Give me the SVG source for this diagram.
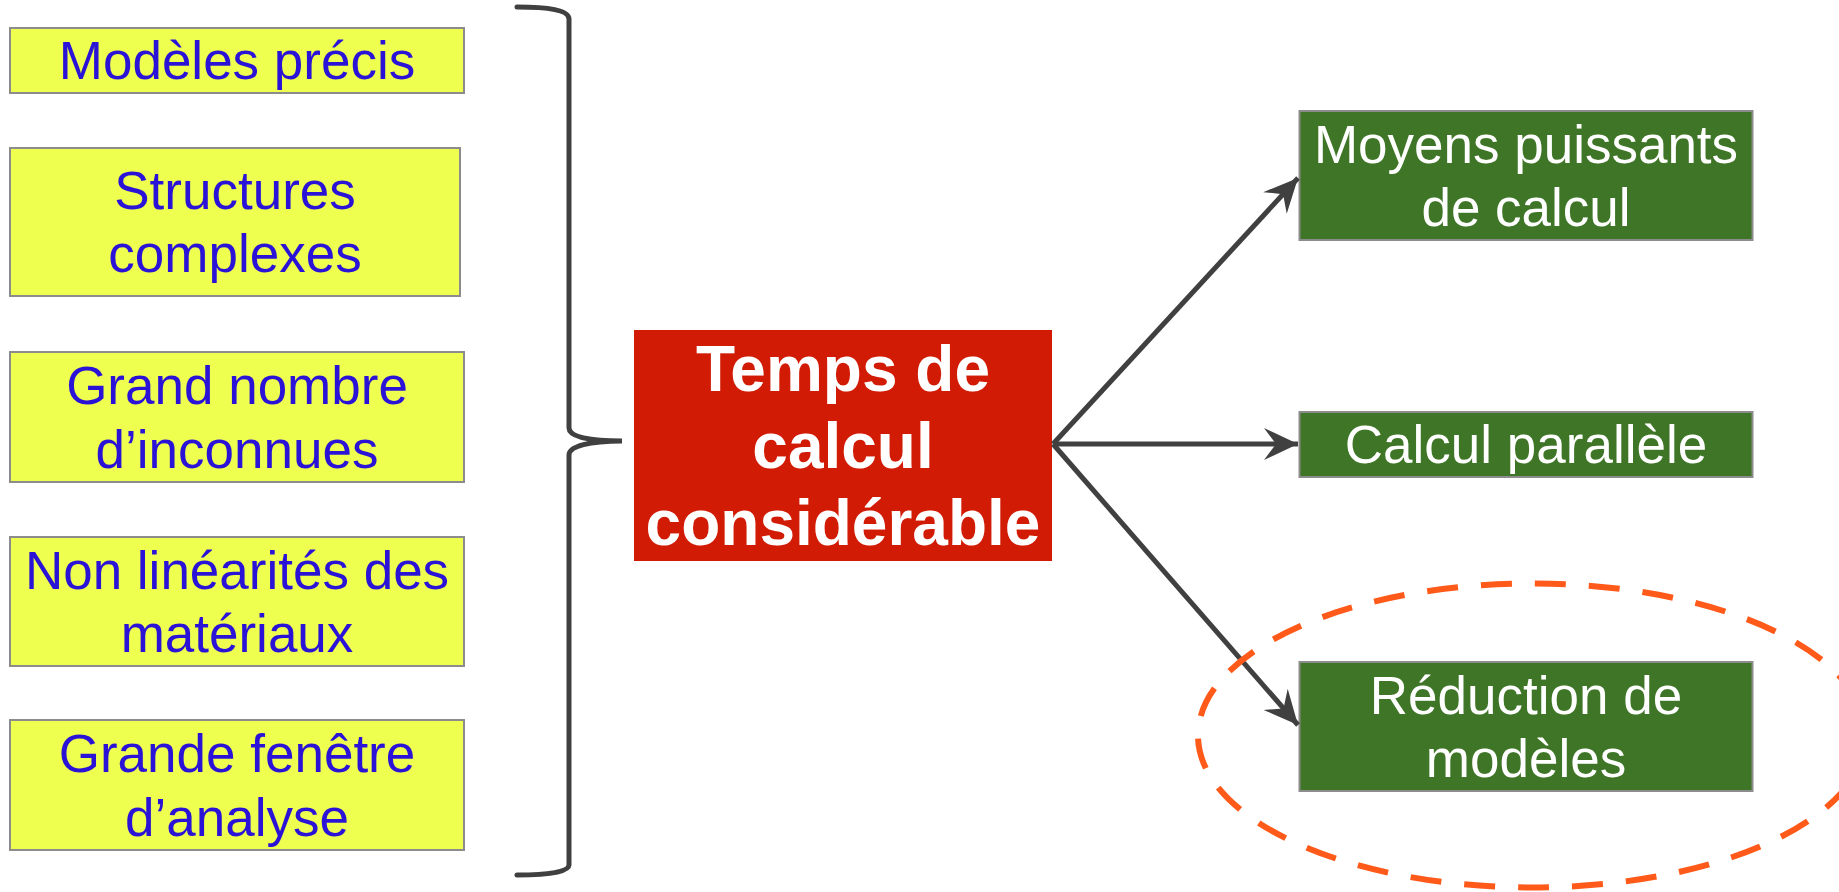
<svg xmlns="http://www.w3.org/2000/svg" width="1839" height="892" viewBox="0 0 1839 892">
<style>
.yb{fill:#EFFF4F;stroke:#8C8C8C;stroke-width:2}
.gb{fill:#3E7526;stroke:#8C8C8C;stroke-width:2}
.yt{font-family:"Liberation Sans",Arial,sans-serif;font-size:53px;fill:#2A12D6;text-anchor:middle}
.gt{font-family:"Liberation Sans",Arial,sans-serif;font-size:53px;fill:#FFFFFF;text-anchor:middle}
.rt{font-family:"Liberation Sans",Arial,sans-serif;font-size:64px;font-weight:bold;fill:#FFFFFF;text-anchor:middle}
.conn{fill:none;stroke:#404040;stroke-width:5}
</style>
<defs>
<marker id="arr" markerUnits="userSpaceOnUse" markerWidth="40" markerHeight="40" viewBox="-36 -20 40 40" refX="0" refY="0" orient="auto">
<path d="M0,0 L-34,-16 L-22,0 L-34,16 Z" fill="#404040"/>
</marker>
</defs>
<rect width="1839" height="892" fill="#FFFFFF"/>

<g id="n1"><rect class="yb" x="10" y="28" width="454" height="65"/><text class="yt" x="237" y="79">Modèles précis</text></g>
<g id="n2"><rect class="yb" x="10" y="148" width="450" height="148"/><text class="yt" x="235" y="208.5">Structures</text><text class="yt" x="235" y="272">complexes</text></g>
<g id="n3"><rect class="yb" x="10" y="352" width="454" height="130"/><text class="yt" x="237" y="404">Grand nombre</text><text class="yt" x="237" y="467.5">d’inconnues</text></g>
<g id="n4"><rect class="yb" x="10" y="537" width="454" height="129"/><text class="yt" x="237" y="588.5">Non linéarités des</text><text class="yt" x="237" y="652">matériaux</text></g>
<g id="n5"><rect class="yb" x="10" y="720" width="454" height="130"/><text class="yt" x="237" y="772">Grande fenêtre</text><text class="yt" x="237" y="835.5">d’analyse</text></g>

<g id="brace"><path class="conn" stroke-linecap="round" d="M517,7 C548,7 569,10 569,19 L569,428 C569,437 590,441 622,441 C590,441 569,446 569,455 L569,865 C569,872 548,875 517,875"/></g>

<g id="center"><rect x="634" y="330" width="418" height="231" fill="#D21B04"/><text class="rt" x="843" y="391">Temps de</text><text class="rt" x="843" y="468">calcul</text><text class="rt" x="843" y="545">considérable</text></g>

<g id="g1"><rect class="gb" x="1299.5" y="111" width="453" height="129"/><text class="gt" x="1526" y="162.5">Moyens puissants</text><text class="gt" x="1526" y="226">de calcul</text></g>
<g id="g2"><rect class="gb" x="1299.5" y="412" width="453" height="65"/><text class="gt" x="1526" y="463">Calcul parallèle</text></g>
<g id="g3"><rect class="gb" x="1299.5" y="662" width="453" height="129"/><text class="gt" x="1526" y="713.5">Réduction de</text><text class="gt" x="1526" y="777">modèles</text></g>

<g id="connectors">
<line class="conn" x1="1053" y1="444" x2="1298" y2="178" marker-end="url(#arr)"/>
<line class="conn" x1="1053" y1="444" x2="1298" y2="444" marker-end="url(#arr)"/>
<line class="conn" x1="1053" y1="444" x2="1298" y2="725" marker-end="url(#arr)"/>
</g>

<g id="highlight"><ellipse cx="1532" cy="735.5" rx="334" ry="152" fill="none" stroke="#FF5A1A" stroke-width="6" stroke-dasharray="31 23"/></g>
</svg>
